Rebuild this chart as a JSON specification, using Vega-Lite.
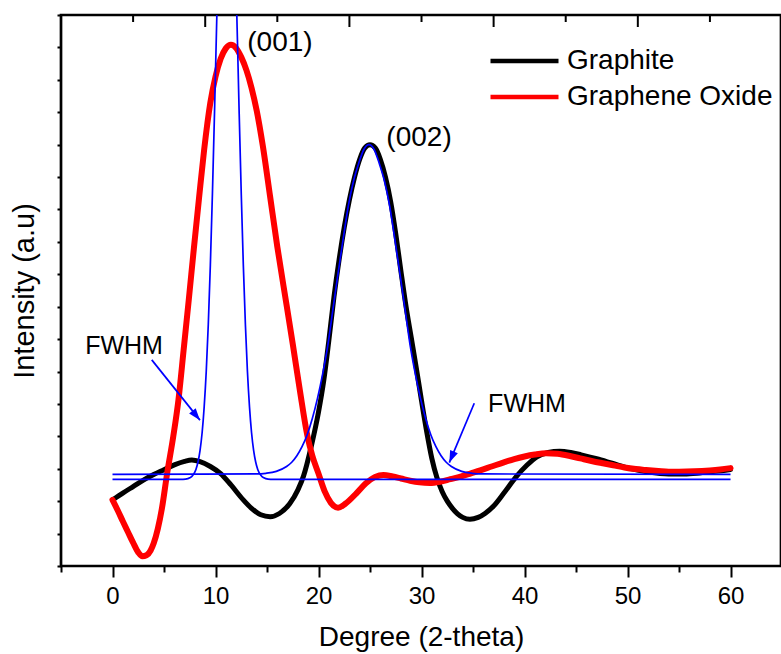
{
  "$schema": "https://vega.github.io/schema/vega-lite/v6.json",
  "width": 720,
  "height": 551,
  "autosize": {"type": "none"},
  "padding": {"left": 61, "top": 15, "right": 0, "bottom": 88},
  "config": {
    "font": "Liberation Sans",
    "view": {"stroke": "black", "strokeWidth": 2.7},
    "axis": {"grid": false, "domain": false, "tickColor": "black", "tickWidth": 2, "labelColor": "black", "titleColor": "black", "labelFont": "Liberation Sans", "titleFont": "Liberation Sans", "titleFontWeight": "normal"},
    "legend": {"orient": "none", "legendX": 427, "legendY": 32, "symbolType": "stroke", "symbolSize": 4624, "symbolStrokeWidth": 4.5, "labelFontSize": 28, "labelFont": "Liberation Sans", "labelColor": "black", "labelOffset": 6, "labelLimit": 400, "clipHeight": 28, "rowPadding": 8, "padding": 0}
  },
  "datasets": {
    "graphite": [
      {"x":0,"y":2.04},{"x":1,"y":2.25},{"x":2,"y":2.45},{"x":3,"y":2.65},{"x":4,"y":2.82},{"x":5,"y":2.97},{"x":6,"y":3.12},{"x":7,"y":3.23},{"x":7.7,"y":3.27},{"x":8.5,"y":3.22},{"x":9.5,"y":3.07},{"x":10.5,"y":2.85},{"x":11.5,"y":2.5},{"x":12.7,"y":2.04},{"x":13.5,"y":1.78},{"x":14.4,"y":1.58},{"x":15.3,"y":1.52},{"x":16.2,"y":1.62},{"x":17.2,"y":1.92},{"x":18,"y":2.35},{"x":18.55,"y":2.78},{"x":19.3,"y":3.7},{"x":20,"y":4.75},{"x":20.5,"y":5.7},{"x":21,"y":6.95},{"x":21.5,"y":8.3},{"x":22,"y":9.45},{"x":22.5,"y":10.45},{"x":23,"y":11.3},{"x":23.5,"y":12.0},{"x":24,"y":12.55},{"x":24.5,"y":12.9},{"x":25,"y":13.0},{"x":25.5,"y":12.9},{"x":26,"y":12.55},{"x":26.5,"y":12.0},{"x":27,"y":11.25},{"x":27.5,"y":10.25},{"x":28,"y":9.1},{"x":28.5,"y":8.0},{"x":29,"y":7.05},{"x":29.5,"y":6.1},{"x":30,"y":5.1},{"x":30.5,"y":4.15},{"x":31,"y":3.32},{"x":31.5,"y":2.72},{"x":32,"y":2.3},{"x":32.5,"y":2.0},{"x":33,"y":1.78},{"x":33.5,"y":1.61},{"x":34,"y":1.5},{"x":34.7,"y":1.44},{"x":35.5,"y":1.5},{"x":36.2,"y":1.63},{"x":37,"y":1.85},{"x":38,"y":2.25},{"x":39.2,"y":2.76},{"x":40.2,"y":3.1},{"x":41.2,"y":3.37},{"x":42.3,"y":3.5},{"x":43.4,"y":3.54},{"x":44.5,"y":3.5},{"x":45.5,"y":3.43},{"x":47,"y":3.31},{"x":48.5,"y":3.17},{"x":50.2,"y":3.01},{"x":52,"y":2.9},{"x":54,"y":2.84},{"x":55.5,"y":2.84},{"x":57,"y":2.87},{"x":58.5,"y":2.92},{"x":60,"y":2.98}
    ],
    "oxide": [
      {"x":0,"y":2.04},{"x":0.5,"y":1.72},{"x":1,"y":1.38},{"x":1.5,"y":1.05},{"x":2,"y":0.72},{"x":2.5,"y":0.42},{"x":2.9,"y":0.3},{"x":3.3,"y":0.33},{"x":3.7,"y":0.48},{"x":4,"y":0.7},{"x":4.4,"y":1.15},{"x":4.8,"y":1.78},{"x":5.3,"y":2.85},{"x":5.9,"y":4.0},{"x":6.4,"y":5.12},{"x":6.9,"y":6.65},{"x":7.4,"y":8.2},{"x":7.9,"y":9.8},{"x":8.4,"y":11.35},{"x":8.9,"y":12.85},{"x":9.5,"y":14.3},{"x":10,"y":15.1},{"x":10.5,"y":15.65},{"x":11,"y":15.97},{"x":11.5,"y":16.08},{"x":12,"y":15.98},{"x":12.5,"y":15.7},{"x":13,"y":15.3},{"x":13.5,"y":14.75},{"x":14,"y":14.05},{"x":14.6,"y":12.95},{"x":15.3,"y":11.4},{"x":16,"y":9.85},{"x":16.9,"y":8.05},{"x":17.5,"y":6.85},{"x":18.2,"y":5.4},{"x":18.9,"y":4.05},{"x":19.4,"y":3.4},{"x":20,"y":2.85},{"x":20.6,"y":2.3},{"x":21.2,"y":1.95},{"x":21.9,"y":1.8},{"x":22.6,"y":1.92},{"x":23.7,"y":2.25},{"x":24.6,"y":2.55},{"x":25.5,"y":2.75},{"x":26.3,"y":2.81},{"x":27.2,"y":2.76},{"x":28,"y":2.7},{"x":28.9,"y":2.63},{"x":29.8,"y":2.58},{"x":30.8,"y":2.56},{"x":31.8,"y":2.6},{"x":32.8,"y":2.68},{"x":33.8,"y":2.76},{"x":34.8,"y":2.86},{"x":35.7,"y":2.95},{"x":36.8,"y":3.07},{"x":38,"y":3.2},{"x":39,"y":3.3},{"x":40,"y":3.38},{"x":41,"y":3.44},{"x":42.1,"y":3.48},{"x":43.2,"y":3.46},{"x":44.3,"y":3.4},{"x":45.4,"y":3.32},{"x":46.5,"y":3.24},{"x":47.6,"y":3.17},{"x":48.6,"y":3.11},{"x":49.7,"y":3.04},{"x":50.8,"y":2.99},{"x":51.8,"y":2.96},{"x":53,"y":2.93},{"x":54,"y":2.91},{"x":55,"y":2.91},{"x":56.5,"y":2.92},{"x":58,"y":2.95},{"x":59,"y":2.98},{"x":60,"y":3.02}
    ],
    "fits": [
      {"fit":"001","x":0,"y":2.67},{"fit":"001","x":6.6,"y":2.67},{"fit":"001","x":7.1,"y":2.68},{"fit":"001","x":7.5,"y":2.72},{"fit":"001","x":7.8,"y":2.8},{"fit":"001","x":8.1,"y":2.98},{"fit":"001","x":8.3,"y":3.21},{"fit":"001","x":8.5,"y":3.57},{"fit":"001","x":8.7,"y":4.11},{"fit":"001","x":8.9,"y":4.91},{"fit":"001","x":9.1,"y":6.0},{"fit":"001","x":9.3,"y":7.46},{"fit":"001","x":9.5,"y":9.29},{"fit":"001","x":9.7,"y":11.48},{"fit":"001","x":9.9,"y":13.95},{"fit":"001","x":10.1,"y":16.59},{"fit":"001","x":10.6,"y":22.57},{"fit":"001","x":11.1,"y":25.07},{"fit":"001","x":11.6,"y":22.57},{"fit":"001","x":12.1,"y":16.59},{"fit":"001","x":12.3,"y":13.95},{"fit":"001","x":12.5,"y":11.48},{"fit":"001","x":12.7,"y":9.29},{"fit":"001","x":12.9,"y":7.46},{"fit":"001","x":13.1,"y":6.0},{"fit":"001","x":13.3,"y":4.91},{"fit":"001","x":13.5,"y":4.11},{"fit":"001","x":13.7,"y":3.57},{"fit":"001","x":13.9,"y":3.21},{"fit":"001","x":14.1,"y":2.98},{"fit":"001","x":14.4,"y":2.8},{"fit":"001","x":14.7,"y":2.72},{"fit":"001","x":15.1,"y":2.68},{"fit":"001","x":15.6,"y":2.67},{"fit":"001","x":60,"y":2.67},
      {"fit":"002","x":0,"y":2.83},{"fit":"002","x":13.9,"y":2.84},{"fit":"002","x":14.9,"y":2.86},{"fit":"002","x":15.9,"y":2.92},{"fit":"002","x":16.9,"y":3.07},{"fit":"002","x":17.4,"y":3.2},{"fit":"002","x":17.9,"y":3.4},{"fit":"002","x":18.4,"y":3.68},{"fit":"002","x":18.9,"y":4.05},{"fit":"002","x":19.4,"y":4.55},{"fit":"002","x":19.9,"y":5.17},{"fit":"002","x":20.4,"y":5.92},{"fit":"002","x":20.9,"y":6.8},{"fit":"002","x":21.4,"y":7.92},{"fit":"002","x":21.9,"y":9.03},{"fit":"002","x":22.4,"y":10.1},{"fit":"002","x":22.9,"y":11.12},{"fit":"002","x":23.4,"y":11.88},{"fit":"002","x":23.9,"y":12.42},{"fit":"002","x":24.4,"y":12.85},{"fit":"002","x":24.9,"y":13.0},{"fit":"002","x":25.4,"y":12.85},{"fit":"002","x":25.9,"y":12.42},{"fit":"002","x":26.4,"y":11.88},{"fit":"002","x":26.9,"y":11.12},{"fit":"002","x":27.4,"y":10.1},{"fit":"002","x":27.9,"y":9.03},{"fit":"002","x":28.4,"y":7.92},{"fit":"002","x":28.9,"y":6.8},{"fit":"002","x":29.4,"y":5.92},{"fit":"002","x":29.9,"y":5.17},{"fit":"002","x":30.4,"y":4.55},{"fit":"002","x":30.9,"y":4.05},{"fit":"002","x":31.4,"y":3.68},{"fit":"002","x":31.9,"y":3.4},{"fit":"002","x":32.4,"y":3.2},{"fit":"002","x":32.9,"y":3.07},{"fit":"002","x":33.9,"y":2.92},{"fit":"002","x":34.9,"y":2.86},{"fit":"002","x":35.9,"y":2.84},{"fit":"002","x":60,"y":2.83}
    ],
    "arrows": [
      {"id":"a1","x":3.81,"y":6.36,"x2":8.49,"y2":4.5},
      {"id":"a2","x":35.12,"y":5.02,"x2":32.7,"y2":3.19}
    ],
    "labels": [
      {"kind":"peak","x":16.26,"y":16.14,"text":"(001)"},
      {"kind":"peak","x":29.76,"y":13.2,"text":"(002)"},
      {"kind":"fwhm","x":1.12,"y":6.79,"text":"FWHM"},
      {"kind":"fwhm","x":40.24,"y":5.0,"text":"FWHM"}
    ],
    "topticks": [
      {"tx":-5,"kind":"major"},{"tx":2,"kind":"minor"},{"tx":9,"kind":"major"},{"tx":16,"kind":"minor"},{"tx":23,"kind":"major"},{"tx":30,"kind":"minor"},{"tx":37,"kind":"major"},{"tx":44,"kind":"minor"},{"tx":51,"kind":"major"},{"tx":58,"kind":"minor"}
    ]
  },
  "layer": [
    {
      "data": {"name": "graphite"},
      "transform": [{"calculate": "'Graphite'", "as": "series"}],
      "mark": {"type": "line", "interpolate": "monotone", "strokeWidth": 5, "clip": true, "strokeJoin": "round", "strokeCap": "round"},
      "encoding": {
        "x": {"field": "x", "type": "quantitative", "title": "Degree (2-theta)", "scale": {"domain": [-5, 64.9], "nice": false, "zero": false},
          "axis": {"values": [-5,0,5,10,15,20,25,30,35,40,45,50,55,60], "tickCount": 20, "labelExpr": "datum.value % 10 === 0 ? datum.label : ''", "labelFontSize": 24, "labelPadding": 7, "labelFlush": false, "labelOverlap": false,
            "tickSize": {"condition": {"test": "datum.value % 10 === 0", "value": 11}, "value": 6}, "titleFontSize": 28, "titlePadding": 15}},
        "y": {"field": "y", "type": "quantitative", "title": "Intensity (a.u)", "scale": {"domain": [0, 17], "nice": false, "zero": false},
          "axis": {"values": [0,1,2,3,4,5,6,7,8,9,10,11,12,13,14,15,16,17], "tickCount": 20, "labels": false, "tickSize": 4, "titleFontSize": 29, "titlePadding": 17}},
        "color": {"field": "series", "type": "nominal", "scale": {"domain": ["Graphite", "Graphene Oxide"], "range": ["#000000", "#ff0000"]}, "legend": {"title": null}}
      }
    },
    {
      "data": {"name": "oxide"},
      "transform": [{"calculate": "'Graphene Oxide'", "as": "series"}],
      "mark": {"type": "line", "interpolate": "monotone", "strokeWidth": 6, "clip": true, "strokeJoin": "round", "strokeCap": "round"},
      "encoding": {
        "x": {"field": "x", "type": "quantitative", "title": "Degree (2-theta)"},
        "y": {"field": "y", "type": "quantitative", "title": "Intensity (a.u)"},
        "color": {"field": "series", "type": "nominal", "legend": {"title": null}}
      }
    },
    {
      "data": {"name": "fits"},
      "mark": {"type": "line", "interpolate": "monotone", "strokeWidth": 1.7, "color": "#0000ff", "clip": true},
      "encoding": {
        "x": {"field": "x", "type": "quantitative", "title": "Degree (2-theta)"},
        "y": {"field": "y", "type": "quantitative", "title": "Intensity (a.u)"},
        "detail": {"field": "fit"}
      }
    },
    {
      "data": {"name": "arrows"},
      "mark": {"type": "rule", "strokeWidth": 1.7, "color": "#0000ff"},
      "encoding": {
        "x": {"field": "x", "type": "quantitative", "title": "Degree (2-theta)"},
        "y": {"field": "y", "type": "quantitative", "title": "Intensity (a.u)"},
        "x2": {"field": "x2"},
        "y2": {"field": "y2"}
      }
    },
    {
      "data": {"name": "arrows"},
      "transform": [{"filter": "datum.id === 'a1'"}],
      "mark": {"type": "point", "shape": "M0,0 L0.35,1 L-0.35,1 Z", "size": 576, "filled": true, "opacity": 1, "color": "#0000ff", "angle": 141.2},
      "encoding": {
        "x": {"field": "x2", "type": "quantitative", "title": "Degree (2-theta)"},
        "y": {"field": "y2", "type": "quantitative", "title": "Intensity (a.u)"}
      }
    },
    {
      "data": {"name": "arrows"},
      "transform": [{"filter": "datum.id === 'a2'"}],
      "mark": {"type": "point", "shape": "M0,0 L0.35,1 L-0.35,1 Z", "size": 576, "filled": true, "opacity": 1, "color": "#0000ff", "angle": 202.8},
      "encoding": {
        "x": {"field": "x2", "type": "quantitative", "title": "Degree (2-theta)"},
        "y": {"field": "y2", "type": "quantitative", "title": "Intensity (a.u)"}
      }
    },
    {
      "data": {"name": "labels"},
      "transform": [{"filter": "datum.kind === 'peak'"}],
      "mark": {"type": "text", "fontSize": 28, "color": "black", "align": "center", "baseline": "middle"},
      "encoding": {
        "x": {"field": "x", "type": "quantitative", "title": "Degree (2-theta)"},
        "y": {"field": "y", "type": "quantitative", "title": "Intensity (a.u)"},
        "text": {"field": "text"}
      }
    },
    {
      "data": {"name": "labels"},
      "transform": [{"filter": "datum.kind === 'fwhm'"}],
      "mark": {"type": "text", "fontSize": 25, "color": "black", "align": "center", "baseline": "middle"},
      "encoding": {
        "x": {"field": "x", "type": "quantitative", "title": "Degree (2-theta)"},
        "y": {"field": "y", "type": "quantitative", "title": "Intensity (a.u)"},
        "text": {"field": "text"}
      }
    },
    {
      "data": {"name": "topticks"},
      "transform": [{"filter": "datum.kind === 'major'"}],
      "mark": {"type": "tick", "orient": "vertical", "size": 24, "thickness": 2, "color": "black", "opacity": 1, "clip": true},
      "encoding": {
        "x": {"field": "tx", "type": "quantitative", "title": "Degree (2-theta)"},
        "y": {"datum": 17, "type": "quantitative"}
      }
    },
    {
      "data": {"name": "topticks"},
      "transform": [{"filter": "datum.kind === 'minor'"}],
      "mark": {"type": "tick", "orient": "vertical", "size": 14, "thickness": 2, "color": "black", "opacity": 1, "clip": true},
      "encoding": {
        "x": {"field": "tx", "type": "quantitative", "title": "Degree (2-theta)"},
        "y": {"datum": 17, "type": "quantitative"}
      }
    }
  ]
}
